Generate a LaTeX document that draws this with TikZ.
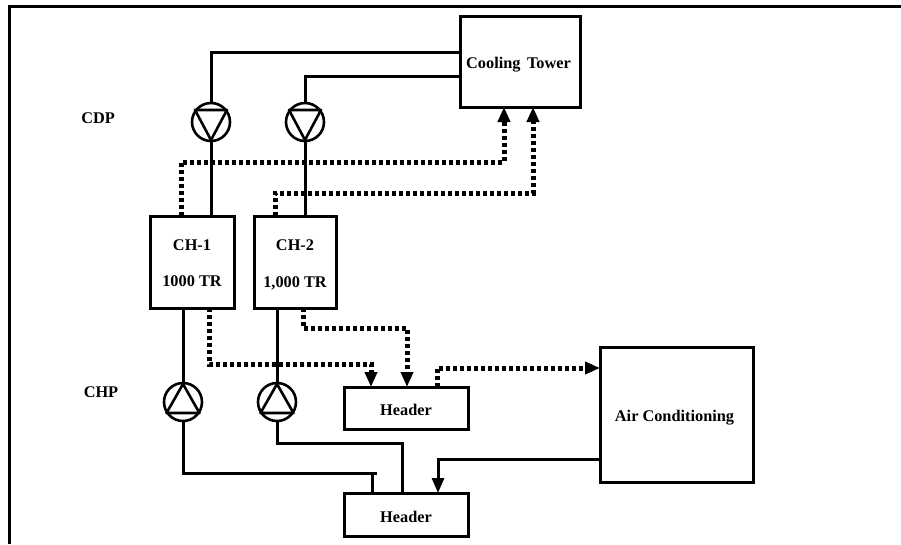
\documentclass[tikz,border=0pt]{standalone}
\usepackage{fontspec}
\setmainfont{Liberation Serif}
\usetikzlibrary{arrows.meta,calc}
\tikzset{
  x=1pt,y=-1pt,
  box/.style={draw=black,line width=3pt,fill=none,inner sep=0pt,outer sep=0pt,align=center,
    font=\fontsize{16.3}{37}\selectfont\bfseries},
  tag/.style={inner sep=0pt,font=\fontsize{16.3}{18}\selectfont\bfseries},
  pumpnode/.style={draw=black,line width=2.6pt,circle,minimum size=38pt,inner sep=0pt,outer sep=0pt},
  pipe/.style={line width=3pt,line join=miter},
  signal/.style={line width=5pt,dash pattern=on 4.2pt off 2.8pt,line join=miter},
  tip/.style={-{Triangle[length=15pt,width=12pt]}},
  symb/.style={line width=2.6pt,line join=round}
}
\newcommand{\lowertext}[2]{\raisebox{-#1pt}[\height][\depth]{#2}}
\newcommand{\pumpdown}[1]{\draw[symb] ($(#1)+(-16,-12)$) -- ($(#1)+(16,-12)$) -- ($(#1)+(0,18)$) -- cycle;}
\newcommand{\pumpup}[1]{\draw[symb] ($(#1)+(-16.5,11)$) -- ($(#1)+(16.5,11)$) -- ($(#1)+(0,-18)$) -- cycle;}
\begin{document}
\begin{tikzpicture}
\useasboundingbox (0,0) rectangle (901,544);
% frame
\coordinate (fa) at (9,544);
\coordinate (fb) at (9,6);
\coordinate (fc) at (901,6);
\draw[line width=3pt,line join=miter] (fa) -- (fb) -- (fc);
% boxes
\node[box,minimum width=120pt,minimum height=91pt] (tower) at (520,61.5) {\lowertext{3}{\hspace{-3pt}Cooling\hspace{0.4em}Tower}};
\node[box,minimum width=84pt,minimum height=92pt] (ch1) at (192,262) {\lowertext{2}{CH-1}\\\lowertext{1}{1000 TR}};
\node[box,minimum width=82pt,minimum height=92pt] (ch2) at (295,262) {\lowertext{3}{CH-2}\\\lowertext{2.5}{1,000 TR}};
\node[box,minimum width=124pt,minimum height=42pt] (hd1) at (406,408) {\lowertext{2}{Header}};
\node[box,minimum width=124pt,minimum height=43pt] (hd2) at (406,514.5) {\lowertext{2}{Header}};
\node[box,minimum width=153pt,minimum height=135pt] (ac) at (676.5,414.5) {\lowertext{3}{\hspace{-4pt}Air Conditioning}};
\node[tag] (cdp) at (98,118) {CDP};
\node[tag] (chp) at (101,392) {CHP};
% pumps
\node[pumpnode] (p1) at (211,122) {};
\node[pumpnode] (p2) at (305,122) {};
\node[pumpnode] (p3) at (183,402) {};
\node[pumpnode] (p4) at (277,402) {};
\pumpdown{p1}\pumpdown{p2}\pumpup{p3}\pumpup{p4}
% condenser water pipes
\draw[pipe] (tower.west |- 0,52) -| (p1.north);
\draw[pipe] (tower.west |- 0,76) -| (p2.north);
\draw[pipe] (p1.south) -- (p1.south |- ch1.north);
\draw[pipe] (p2.south) -- (p2.south |- ch2.north);
% chilled water pipes
\draw[pipe] (p3.north |- ch1.south) -- (p3.north);
\draw[pipe] (p4.north |- ch2.south) -- (p4.north);
\draw[pipe] (p3.south) |- (377,473);
\draw[pipe] (372,473) -- (372,493);
\draw[pipe] (p4.south) |- (402,443) -- (402,493);
\draw[pipe,tip] (ac.west |- 0,459) -| (438,493);
% signal lines
\draw[signal,tip] (181,216) |- (504,162) -- (504,107);
\draw[signal,tip] (275,216) |- (533,193) -- (533,107);
\draw[signal,tip] (209,308) |- (371,364) -- (371,387);
\draw[signal,tip] (303,308) |- (407,328) -- (407,387);
\draw[signal,tip] (437,387) |- (ac.west |- 0,368);
\end{tikzpicture}
\end{document}
